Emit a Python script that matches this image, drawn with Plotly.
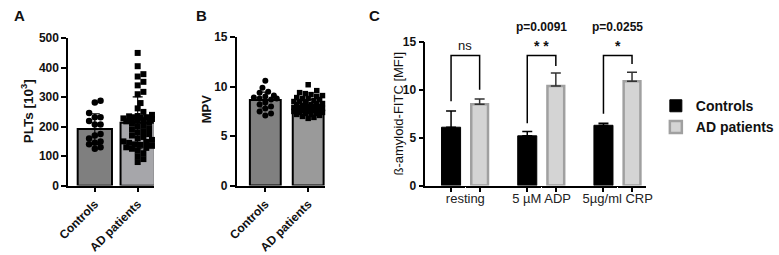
import plotly.graph_objects as go

W, H = 779, 255
FONT = "Liberation Sans, Arial, sans-serif"

# ---------------- data ----------------
groups_ab = ["Controls", "AD patients"]

plt_means = [192, 213]
plt_sd = [52, 88]
plt_controls = [288, 282, 246, 232, 232, 219, 207, 207, 175, 170, 160, 150, 145, 140, 130, 125]
plt_ad = [450, 405, 378, 370, 352, 340, 318, 310, 280, 262, 250, 240, 236, 235, 232, 232, 230,
          228, 226, 225, 222, 220, 218, 215, 210, 205, 200, 195, 190, 185, 180, 175, 170, 165,
          160, 155, 150, 148, 145, 140, 138, 135, 130, 128, 125, 120, 110, 100, 90, 80]

mpv_means = [8.65, 8.05]
mpv_sd = [0.8, 0.65]
mpv_controls = [10.6, 9.9, 9.5, 9.4, 9.1, 9.0, 8.9, 8.8, 8.8, 8.7, 8.4, 8.2, 8.0, 7.8, 7.5, 7.3, 7.1]
mpv_ad = [10.2, 9.6, 9.4, 9.3, 9.2, 9.1, 9.0, 8.9, 8.8, 8.8, 8.7, 8.6, 8.5, 8.5, 8.4, 8.3, 8.3,
          8.2, 8.2, 8.1, 8.0, 8.0, 8.0, 7.9, 7.9, 7.8, 7.8, 7.8, 7.7, 7.7, 7.6, 7.6, 7.6, 7.5,
          7.5, 7.4, 7.4, 7.3, 7.3, 7.2, 7.2, 7.1, 7.0, 6.9, 6.8]

conditions = ["resting", "5 µM ADP", "5µg/ml CRP"]
mfi_controls = [6.1, 5.2, 6.3]
mfi_controls_err = [1.7, 0.45, 0.2]
mfi_ad = [8.5, 10.4, 10.9]
mfi_ad_err = [0.55, 1.35, 0.95]
sig_labels = ["ns", "* *", "*"]
p_labels = ["", "p=0.0091", "p=0.0255"]
bracket_top = [13.6, 13.6, 13.6]
bracket_left = [8.8, 6.5, 7.5]
bracket_right = [10.0, 12.5, 12.7]

# ---------------- layout helpers ----------------
def xdom(a, b):
    return [a / W, b / W]

def ydom(top, bottom):
    return [1 - bottom / H, 1 - top / H]

def swarm(vals, center, px_y, px_x, d=6.0, maxoff=15.0):
    placed = []
    xs = [0.0] * len(vals)
    order = sorted(range(len(vals)), key=lambda i: vals[i])
    cands = [0.0]
    k = 1
    while k * d * 0.5 <= maxoff:
        cands += [k * d * 0.5, -k * d * 0.5]
        k += 1
    for i in order:
        yp = vals[i] * px_y
        best, bestscore = 0.0, -1
        for c in cands:
            md = min([((c - px) ** 2 + (yp - py) ** 2) ** 0.5 for px, py in placed] or [99])
            if md >= d:
                best = c
                break
            if md > bestscore:
                bestscore, best = md, c
        placed.append((best, yp))
        xs[i] = center + best / px_x
    return xs

fig = go.Figure()

# ---------------- Panel A ----------------
A_y0, A_y1 = 189, 33
A_px_y = (A_y0 - A_y1) / 500
A_px_x = 45.0
fig.add_trace(go.Bar(x=[0, 1], y=plt_means, width=0.8, xaxis="x", yaxis="y",
                     marker=dict(color=["#7f7f7f", "#a6a6aa"], line=dict(color="black", width=2)),
                     error_y=dict(type="data", array=plt_sd, color="black", thickness=1.1, width=5),
                     showlegend=False))
fig.add_trace(go.Scatter(x=swarm(plt_controls, 0, A_px_y, A_px_x), y=plt_controls, mode="markers",
                         xaxis="x", yaxis="y", cliponaxis=False,
                         marker=dict(symbol="circle", size=6.5, color="black"), showlegend=False))
fig.add_trace(go.Scatter(x=swarm(plt_ad, 1, A_px_y, A_px_x), y=plt_ad, mode="markers",
                         xaxis="x", yaxis="y", cliponaxis=False,
                         marker=dict(symbol="square", size=6, color="black"), showlegend=False))

# ---------------- Panel B ----------------
B_y0, B_y1 = 189, 32
B_px_y = (B_y0 - B_y1) / 15
fig.add_trace(go.Bar(x=[0, 1], y=mpv_means, width=0.72, xaxis="x2", yaxis="y2",
                     marker=dict(color=["#808080", "#9a9a9a"], line=dict(color="black", width=2)),
                     error_y=dict(type="data", array=mpv_sd, color="black", thickness=1.1, width=5),
                     showlegend=False))
fig.add_trace(go.Scatter(x=swarm(mpv_controls, 0, B_px_y, 45.0), y=mpv_controls, mode="markers",
                         xaxis="x2", yaxis="y2", cliponaxis=False,
                         marker=dict(symbol="circle", size=6, color="black"), showlegend=False))
fig.add_trace(go.Scatter(x=swarm(mpv_ad, 1, B_px_y, 45.0), y=mpv_ad, mode="markers",
                         xaxis="x2", yaxis="y2", cliponaxis=False,
                         marker=dict(symbol="square", size=5.5, color="black"), showlegend=False))

# ---------------- Panel C ----------------
OFF = 0.1875
BW = 0.25
gx = list(range(len(conditions)))
fig.add_trace(go.Bar(x=gx, y=mfi_controls, width=BW, offset=-OFF - BW / 2, xaxis="x3", yaxis="y3",
                     name="Controls",
                     marker=dict(color="black", line=dict(color="black", width=1)),
                     error_y=dict(type="data", symmetric=False, array=mfi_controls_err,
                                  arrayminus=[0] * 3, color="black", thickness=1.5, width=5)))
fig.add_trace(go.Bar(x=gx, y=mfi_ad, width=BW - 0.03, offset=OFF - (BW - 0.03) / 2, xaxis="x3", yaxis="y3",
                     name="AD patients",
                     marker=dict(color="#d4d4d4", line=dict(color="#a0a0a0", width=2.5)),
                     error_y=dict(type="data", symmetric=False, array=mfi_ad_err,
                                  arrayminus=[0] * 3, color="#333333", thickness=1.5, width=5)))

shapes = []
annotations = []
for g in gx:
    xl, xr = g - OFF, g + OFF
    shapes.append(dict(type="path", xref="x3", yref="y3",
                       path=f"M {xl},{bracket_left[g]} L {xl},{bracket_top[g]} L {xr},{bracket_top[g]} L {xr},{bracket_right[g]}",
                       line=dict(color="black", width=1.5)))
    bold = sig_labels[g] != "ns"
    annotations.append(dict(x=g, y=bracket_top[g] + 1.0, xref="x3", yref="y3", text=sig_labels[g],
                            showarrow=False, yanchor="middle",
                            font=dict(family=FONT, size=14 if bold else 13, color="#111",
                                      weight="bold" if bold else "normal")))
    if p_labels[g]:
        annotations.append(dict(x=g, y=1 - 21 / H, xref="x3", yref="paper", text=p_labels[g],
                                showarrow=False, yanchor="middle",
                                font=dict(family=FONT, size=12, color="#111", weight="bold")))

# panel letters and axis titles
for txt, px in [("A", 9), ("B", 200), ("C", 382)]:
    annotations.append(dict(x=px / W, y=1 - 9 / H, xref="paper", yref="paper", text=txt,
                            showarrow=False, xanchor="center", yanchor="middle",
                            font=dict(family=FONT, size=15, color="#111", weight="bold")))
for txt, px, py, sz, wt in [("PLTs [10<sup>3</sup>]", 17, 110, 13.5, "bold"),
                            ("MPV", 205, 108, 13, "bold"),
                            ("ß-amyloid-FITC [MFI]", 407, 113, 13, "normal")]:
    annotations.append(dict(x=px / W, y=1 - py / H, xref="paper", yref="paper", text=txt,
                            textangle=-90, showarrow=False, xanchor="center", yanchor="middle",
                            font=dict(family=FONT, size=sz, color="#111", weight=wt)))

axis_common = dict(showline=True, linecolor="black", linewidth=1.6, ticks="outside",
                   ticklen=5, tickwidth=1.5, tickcolor="black", showgrid=False, zeroline=False,
                   fixedrange=True)
ytick_font = dict(family=FONT, size=12, color="#111", weight="bold")
xrot_font = dict(family=FONT, size=12, color="#111", weight="bold")

fig.update_layout(
    width=W, height=H, margin=dict(l=0, r=0, t=0, b=0),
    paper_bgcolor="white", plot_bgcolor="white",
    barmode="overlay",
    font=dict(family=FONT),
    xaxis=dict(domain=xdom(60, 150), range=[-28 / 45, 1 + 17 / 45], anchor="y",
               tickvals=[0, 1], ticktext=groups_ab, tickangle=-45, tickfont=xrot_font, **axis_common),
    yaxis=dict(domain=ydom(A_y1, A_y0), range=[0, 500], anchor="x", tickvals=[0, 100, 200, 300, 400, 500],
               tickfont=ytick_font, **axis_common),
    xaxis2=dict(domain=xdom(237, 330), range=[-30 / 45, 1 + 18 / 45], anchor="y2",
                tickvals=[0, 1], ticktext=groups_ab, tickangle=-45, tickfont=xrot_font, **axis_common),
    yaxis2=dict(domain=ydom(B_y1, B_y0), range=[0, 15], anchor="x2", tickvals=[0, 5, 10, 15],
                tickfont=ytick_font, **axis_common),
    xaxis3=dict(domain=xdom(435, 667), range=[-42 / 80, 2 + 30 / 80], anchor="y3",
                tickvals=gx, ticktext=conditions,
                tickfont=dict(family=FONT, size=13, color="#222"),
                showline=True, linecolor="black", linewidth=1.6, ticks="outside", ticklen=0.1,
                tickwidth=0.1, tickcolor="white", showgrid=False, zeroline=False,
                minor=dict(tickvals=[g + s * OFF for g in gx for s in (-1, 1)], ticks="outside",
                           ticklen=5, tickwidth=1.5, tickcolor="black", showgrid=False)),
    yaxis3=dict(domain=ydom(37, 189), range=[0, 15], anchor="x3", tickvals=[0, 5, 10, 15],
                tickfont=ytick_font, **axis_common),
    legend=dict(x=677 / W, y=1 - 88 / H, xanchor="left", yanchor="top",
                font=dict(family=FONT, size=14, color="#111", weight="bold"),
                bgcolor="rgba(0,0,0,0)", tracegroupgap=2),
    shapes=shapes,
    annotations=annotations,
)

fig.write_html("out.html")
